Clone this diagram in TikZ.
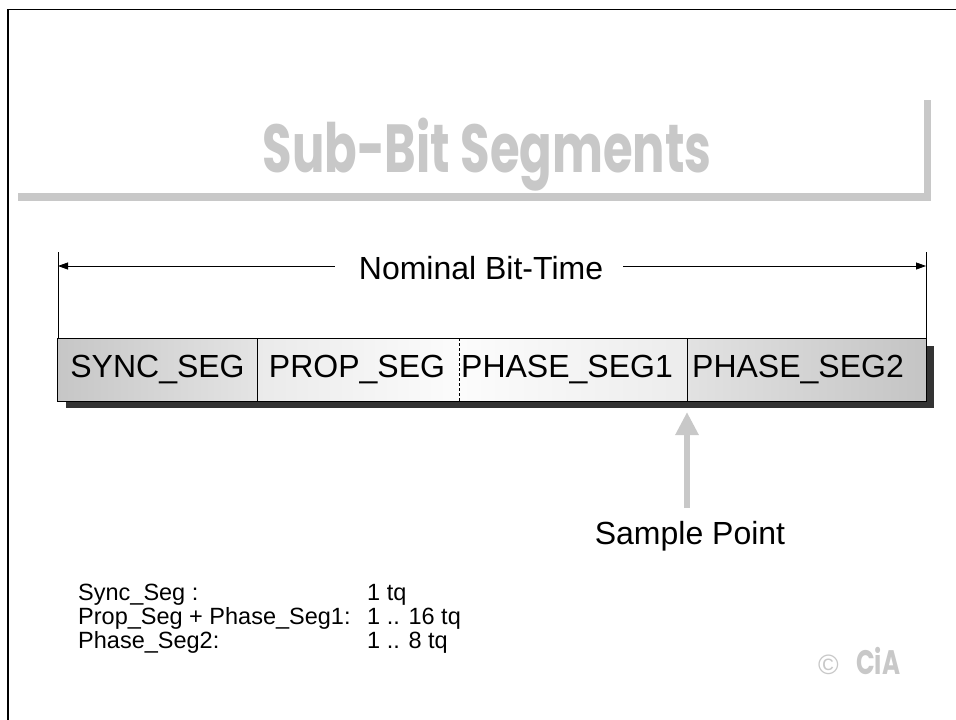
\documentclass[tikz,border=0pt]{standalone}
\usepackage{fontspec}
\setmainfont{Liberation Sans}
\newfontfamily\titlefont{Poppins}
\usetikzlibrary{arrows.meta,shadings}
\definecolor{titlegray}{RGB}{200,200,200}
\definecolor{shadowgray}{RGB}{51,51,51}
\definecolor{gA}{RGB}{198,198,198}
\definecolor{gB}{RGB}{228,228,228}
\definecolor{gC}{RGB}{234,234,234}
\definecolor{gD}{RGB}{252,252,252}
\definecolor{gE}{RGB}{236,236,236}
\definecolor{gF}{RGB}{226,226,226}
\definecolor{gG}{RGB}{196,196,196}
\begin{document}
\begin{tikzpicture}[x=1pt,y=-1pt,
  seglabel/.style={font=\fontsize{32}{32}\selectfont, inner sep=0pt, anchor=center},
  notelabel/.style={font=\fontsize{23.5}{23.5}\selectfont, inner sep=0pt, anchor=base west},
  dimarrow/.style={line width=0.8pt, -{Triangle[length=10pt,width=7pt]}},
  samplearrow/.style={line width=6pt, titlegray, -{Triangle[length=23pt,width=22pt]}},
  divider/.style={line width=0.8pt}
]
\useasboundingbox (0,0) rectangle (956,720);
\fill[white] (0,0) rectangle (956,720);
% frame
\draw[line width=1.5pt] (8,720) -- (8,9.5) -- (956,9.5);
% title
\node[titlegray, inner sep=0pt, anchor=base] (title) at (487,172)
  {\resizebox{449pt}{\height}{\titlefont\bfseries\fontsize{68}{68}\selectfont Sub-Bit Segments}};
\fill[titlegray] (18,193) rectangle (931,201);
\fill[titlegray] (924,100) rectangle (931,201);
% segments box
\fill[shadowgray] (66,346) rectangle (934,408);
\shade[left color=gA, right color=gB] (57,338) rectangle (257,401);
\shade[left color=gC, right color=gD] (257,338) rectangle (459,401);
\shade[left color=gD, right color=gE] (459,338) rectangle (687,401);
\shade[left color=gF, right color=gG] (687,338) rectangle (926,401);
\node[seglabel] (sync) at (157.5,370) {SYNC\_SEG};
\node[seglabel] (prop) at (357,370) {PROP\_SEG};
\node[seglabel] (ph1) at (567,370) {PHASE\_SEG1};
\node[seglabel] (ph2) at (798,370) {PHASE\_SEG2};
\draw[divider] (57,338) rectangle (926,401);
\draw[divider] (257,338) -- (257,401);
\draw[divider, dash pattern=on 3pt off 2pt] (459,338) -- (459,401);
\draw[divider] (687,338) -- (687,401);
% nominal bit time
\coordinate (ltop) at (58,252);
\coordinate (lbot) at (58,338);
\coordinate (rtop) at (926,252);
\coordinate (rbot) at (926,338);
\draw[line width=0.8pt] (ltop) -- (lbot);
\draw[line width=0.8pt] (rtop) -- (rbot);
\node[seglabel] (nom) at (481,268) {Nominal Bit-Time};
\coordinate (larr) at (58,266);
\coordinate (rarr) at (926,266);
\draw[dimarrow] ([xshift=-24pt]nom.west |- larr) -- (larr);
\draw[dimarrow] ([xshift=20pt]nom.east |- rarr) -- (rarr);
% sample point
\node[seglabel] (sp) at (690,536) {Sample Point};
\coordinate (tip) at (687,412);
\draw[samplearrow] (687,508) -- (tip);
% notes
\node[notelabel] (n1) at (78,600) {Sync\_Seg :};
\node[notelabel] (v1) at (367,600) {1 tq};
\node[notelabel] (n2) at (78,624) {Prop\_Seg + Phase\_Seg1:};
\node[notelabel] (v2) at (367,624) {1 .. 16 tq};
\node[notelabel] (n3) at (78,648) {Phase\_Seg2:};
\node[notelabel] (v3) at (367,648) {1 .. 8 tq};
% copyright
\node[titlegray, inner sep=0pt, anchor=base west, font=\fontsize{28}{28}\selectfont] (copy) at (818,674) {©};
\node[titlegray, inner sep=0pt, anchor=base west] (cia) at (856,674)
  {\resizebox{44pt}{\height}{\titlefont\bfseries\fontsize{34}{34}\selectfont CiA}};
\end{tikzpicture}
\end{document}
